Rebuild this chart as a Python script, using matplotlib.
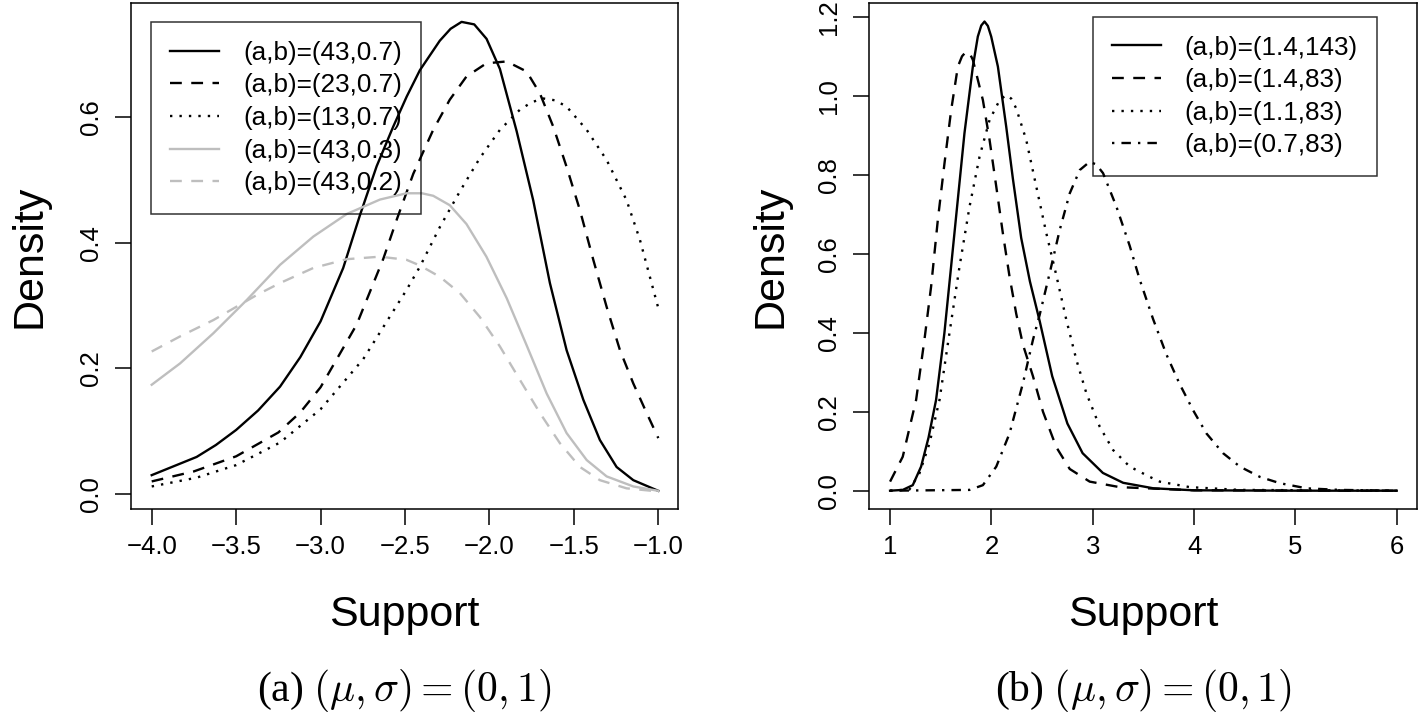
import matplotlib
matplotlib.use("Agg")
import matplotlib.pyplot as plt

plt.rcParams["font.family"] = ["Liberation Sans", "DejaVu Sans"]
plt.rcParams["mathtext.fontset"] = "cm"

GRAY = "#bebebe"

# panel (a): curves
a1_x = [-4.0, -3.734, -3.62, -3.5, -3.37, -3.24, -3.12, -3.0, -2.866, -2.767, -2.668, -2.57,
        -2.49, -2.412, -2.294, -2.23, -2.165, -2.09, -2.017, -1.938, -1.839, -1.741, -1.642,
        -1.543, -1.444, -1.346, -1.247, -1.148, -1.0]
a1_y = [0.030, 0.059, 0.078, 0.102, 0.133, 0.171, 0.218, 0.275, 0.360, 0.444, 0.522, 0.585,
        0.633, 0.675, 0.722, 0.741, 0.752, 0.748, 0.725, 0.677, 0.578, 0.468, 0.336,
        0.229, 0.150, 0.086, 0.043, 0.022, 0.005]

a2_x = [-4.0, -3.75, -3.5, -3.25, -3.12, -3.0, -2.786, -2.628, -2.549, -2.451, -2.333, -2.235,
        -2.136, -2.018, -1.898, -1.78, -1.701, -1.622, -1.543, -1.464, -1.385, -1.306, -1.227,
        -1.148, -1.069, -1.0]
a2_y = [0.020, 0.036, 0.060, 0.098, 0.130, 0.170, 0.270, 0.375, 0.437, 0.510, 0.580, 0.628,
        0.665, 0.686, 0.689, 0.673, 0.638, 0.585, 0.521, 0.452, 0.373, 0.298, 0.229,
        0.176, 0.129, 0.089]

a3_x = [-4.0, -3.734, -3.5, -3.24, -3.0, -2.747, -2.491, -2.412, -2.294, -2.175, -2.057,
        -1.938, -1.82, -1.75, -1.681, -1.61, -1.543, -1.424, -1.306, -1.188, -1.109, -1.0]
a3_y = [0.012, 0.026, 0.046, 0.082, 0.135, 0.215, 0.325, 0.362, 0.425, 0.482, 0.535,
        0.580, 0.612, 0.624, 0.630, 0.627, 0.617, 0.580, 0.532, 0.468, 0.405, 0.296]

a4_x = [-4.0, -3.832, -3.635, -3.437, -3.24, -3.043, -2.845, -2.648, -2.491, -2.4, -2.333,
        -2.235, -2.136, -2.018, -1.898, -1.78, -1.661, -1.543, -1.424, -1.306, -1.148, -1.0]
a4_y = [0.174, 0.208, 0.256, 0.309, 0.365, 0.410, 0.446, 0.469, 0.479, 0.479, 0.475,
        0.460, 0.430, 0.378, 0.312, 0.237, 0.160, 0.097, 0.054, 0.028, 0.012, 0.005]

a5_x = [-4.0, -3.832, -3.635, -3.371, -3.24, -3.043, -2.845, -2.648, -2.491, -2.412, -2.294,
        -2.175, -2.057, -1.938, -1.82, -1.701, -1.583, -1.464, -1.346, -1.188, -1.0]
a5_y = [0.227, 0.251, 0.277, 0.318, 0.336, 0.360, 0.374, 0.378, 0.373, 0.364, 0.346,
        0.320, 0.282, 0.235, 0.182, 0.129, 0.081, 0.043, 0.022, 0.009, 0.004]

a_labels = ["(a,b)=(43,0.7)", "(a,b)=(23,0.7)", "(a,b)=(13,0.7)", "(a,b)=(43,0.3)", "(a,b)=(43,0.2)"]

# panel (b)
b1_x = [1.0, 1.125, 1.224, 1.306, 1.38, 1.454, 1.536, 1.602, 1.668, 1.734, 1.817, 1.866, 1.90,
        1.932, 1.965, 1.998, 2.064, 2.146, 2.212, 2.294, 2.38, 2.476, 2.6, 2.75, 2.9, 3.1,
        3.3, 3.6, 4.0, 5.0, 6.0]
b1_y = [0.0, 0.002, 0.014, 0.061, 0.135, 0.230, 0.399, 0.567, 0.736, 0.905, 1.074, 1.150, 1.178,
        1.188, 1.177, 1.150, 1.074, 0.922, 0.790, 0.640, 0.530, 0.430, 0.290, 0.170, 0.095,
        0.045, 0.020, 0.006, 0.001, 0.0, 0.0]

b2_x = [1.0, 1.125, 1.257, 1.339, 1.405, 1.471, 1.537, 1.603, 1.669, 1.71, 1.751, 1.785,
        1.817, 1.916, 1.982, 2.048, 2.113, 2.179, 2.245, 2.311, 2.41, 2.509, 2.641, 2.773,
        2.97, 3.266, 4.0, 6.0]
b2_y = [0.023, 0.086, 0.230, 0.382, 0.517, 0.685, 0.829, 0.964, 1.074, 1.100, 1.112, 1.108,
        1.091, 0.989, 0.888, 0.770, 0.652, 0.542, 0.448, 0.370, 0.290, 0.200, 0.110, 0.055,
        0.023, 0.009, 0.001, 0.0]

b3_x = [1.0, 1.191, 1.29, 1.389, 1.488, 1.586, 1.685, 1.784, 1.883, 1.982, 2.081, 2.146,
        2.195, 2.245, 2.344, 2.443, 2.542, 2.641, 2.74, 2.839, 2.937, 3.069, 3.201, 3.365,
        3.563, 3.661, 3.958, 4.452, 6.0]
b3_y = [0.0, 0.003, 0.044, 0.120, 0.230, 0.399, 0.567, 0.719, 0.846, 0.939, 0.989, 1.002,
        0.993, 0.968, 0.888, 0.770, 0.652, 0.545, 0.432, 0.331, 0.247, 0.162, 0.103, 0.061,
        0.035, 0.023, 0.009, 0.002, 0.0]

b4_x = [1.0, 1.784, 1.916, 2.048, 2.179, 2.311, 2.41, 2.476, 2.575, 2.674, 2.773, 2.872,
        2.97, 3.035, 3.102, 3.234, 3.365, 3.463, 3.595, 3.727, 3.858, 3.99, 4.122, 4.286,
        4.452, 4.649, 4.847, 5.111, 5.44, 6.0]
b4_y = [0.0, 0.002, 0.014, 0.061, 0.145, 0.272, 0.382, 0.445, 0.551, 0.660, 0.753, 0.812,
        0.833, 0.826, 0.804, 0.719, 0.620, 0.535, 0.435, 0.345, 0.270, 0.204, 0.145, 0.095,
        0.061, 0.035, 0.019, 0.006, 0.002, 0.0]

b_labels = ["(a,b)=(1.4,143)", "(a,b)=(1.4,83)", "(a,b)=(1.1,83)", "(a,b)=(0.7,83)"]

W, H = 1418, 713
fig = plt.figure(figsize=(W / 100, H / 100), dpi=100)


def px_axes(x0, y0, x1, y1):
    return fig.add_axes([x0 / W, 1 - y1 / H, (x1 - x0) / W, (y1 - y0) / H])


def style(ax):
    for s in ax.spines.values():
        s.set_linewidth(1.1)
    ax.tick_params(length=11.5, width=1.1, labelsize=18.5, direction="out")
    ax.tick_params(axis="x", pad=7)
    ax.tick_params(axis="y", pad=9, labelrotation=90)
    for lab in ax.get_yticklabels():
        lab.set_va("center")


def add_legend(ax, anchor):
    leg = ax.legend(loc="upper left", bbox_to_anchor=anchor, borderaxespad=0,
                    fontsize=18.8, handlelength=1.9, handletextpad=0.9, labelspacing=0.33,
                    borderpad=0.72, fancybox=False, frameon=True)
    leg.get_frame().set_edgecolor("black")
    leg.get_frame().set_facecolor("none")
    leg.get_frame().set_linewidth(1.1)
    return leg


dash = (0, (5, 4))
dot = (0, (1, 3))
dashdot = (0, (1, 3, 4, 3))
lw = 1.7

ax1 = px_axes(131, 3.3, 678.3, 509.3)
ax1.plot(a1_x, a1_y, color="black", lw=lw, label=a_labels[0])
ax1.plot(a2_x, a2_y, color="black", lw=lw, ls=dash, label=a_labels[1])
ax1.plot(a3_x, a3_y, color="black", lw=lw, ls=dot, label=a_labels[2])
ax1.plot(a4_x, a4_y, color=GRAY, lw=lw, label=a_labels[3])
ax1.plot(a5_x, a5_y, color=GRAY, lw=lw, ls=dash, label=a_labels[4])
ax1.set_xlim(-4.1226, -0.8816)
ax1.set_ylim(-0.0244, 0.7816)
ax1.set_xticks([-4.0, -3.5, -3.0, -2.5, -2.0, -1.5, -1.0])
ax1.set_xticklabels(["\u22124.0", "\u22123.5", "\u22123.0", "\u22122.5", "\u22122.0", "\u22121.5", "\u22121.0"])
ax1.set_yticks([0.0, 0.2, 0.4, 0.6])
ax1.set_yticklabels(["0.0", "0.2", "0.4", "0.6"])
style(ax1)
add_legend(ax1, (0.0365, 0.9630))

ax2 = px_axes(869.3, 3.3, 1417, 509.3)
ax2.plot(b1_x, b1_y, color="black", lw=lw, label=b_labels[0])
ax2.plot(b2_x, b2_y, color="black", lw=lw, ls=dash, label=b_labels[1])
ax2.plot(b3_x, b3_y, color="black", lw=lw, ls=dot, label=b_labels[2])
ax2.plot(b4_x, b4_y, color="black", lw=lw, ls=dashdot, label=b_labels[3])
ax2.set_xlim(0.795, 6.2)
ax2.set_ylim(-0.0471, 1.2342)
ax2.set_xticks([1, 2, 3, 4, 5, 6])
ax2.set_yticks([0.0, 0.2, 0.4, 0.6, 0.8, 1.0, 1.2])
ax2.set_yticklabels(["0.0", "0.2", "0.4", "0.6", "0.8", "1.0", "1.2"])
style(ax2)
add_legend(ax2, (0.4079, 0.9735))

# axis titles and captions
for cx, dx in [(404.7, 30), (1143, 770)]:
    fig.text(cx / W, 1 - 615 / H, "Support", fontsize=31, ha="center", va="center")
    fig.text(dx / W, 1 - 256 / H, "Density", fontsize=31, rotation=90, ha="center", va="center")

fig.text(404.7 / W, 1 - 690 / H, r"(a) $(\mu,\sigma) = (0,1)$", fontsize=30,
         family="Liberation Serif", ha="center", va="center")
fig.text(1143 / W, 1 - 690 / H, r"(b) $(\mu,\sigma) = (0,1)$", fontsize=30,
         family="Liberation Serif", ha="center", va="center")

fig.savefig("out.png", dpi=100)
